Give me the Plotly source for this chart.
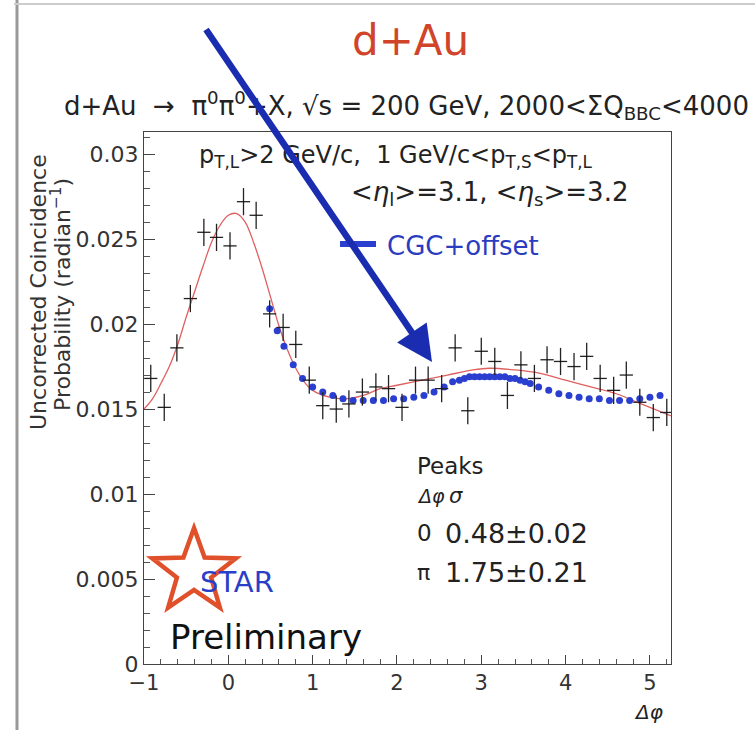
import math
import plotly.graph_objects as go

# ---------------- data ----------------
dphi = [-0.92, -0.76, -0.61, -0.45, -0.29, -0.14, 0.02, 0.18, 0.33, 0.49,
        0.65, 0.80, 0.96, 1.12, 1.28, 1.43, 1.59, 1.75, 1.90, 2.06,
        2.22, 2.37, 2.53, 2.69, 2.84, 3.00, 3.16, 3.31, 3.47, 3.63,
        3.78, 3.94, 4.10, 4.25, 4.41, 4.57, 4.72, 4.88, 5.04, 5.20]
prob = [0.0168, 0.0151, 0.0186, 0.0215, 0.0254, 0.0251, 0.0246, 0.0272, 0.0264, 0.0206,
        0.0198, 0.0188, 0.0167, 0.0152, 0.0150, 0.0153, 0.0160, 0.0163, 0.0162, 0.0151,
        0.0167, 0.0167, 0.0162, 0.0186, 0.0149, 0.0184, 0.0178, 0.0158, 0.0176, 0.0168,
        0.0179, 0.0178, 0.0175, 0.0181, 0.0168, 0.0161, 0.0170, 0.0154, 0.0145, 0.0148]
prob_err = [0.0008] * 40
dphi_halfbin = [0.0785] * 40

fit_x = [-1.0, -0.9, -0.8, -0.7, -0.6, -0.5, -0.4, -0.3, -0.2, -0.1, 0.0, 0.1, 0.2,
         0.3, 0.4, 0.5, 0.6, 0.7, 0.8, 0.9, 1.0, 1.2, 1.4, 1.6, 1.8, 2.0, 2.3, 2.6,
         2.9, 3.1, 3.4, 3.7, 4.0, 4.3, 4.6, 4.8, 5.0, 5.25]
fit_y = [0.0150, 0.0156, 0.0165, 0.0175, 0.0188, 0.0204, 0.0219, 0.0234, 0.0248, 0.0258,
         0.0264, 0.0265, 0.0260, 0.0248, 0.0233, 0.0216, 0.0199, 0.0185, 0.0174, 0.0166,
         0.0161, 0.0157, 0.0156, 0.0158, 0.0162, 0.0164, 0.0167, 0.0170, 0.0173, 0.0174,
         0.0173, 0.0171, 0.0167, 0.0163, 0.0159, 0.0155, 0.0151, 0.0146]

cgc_x = [0.49, 0.58, 0.66, 0.77, 0.88, 1.00, 1.12, 1.24, 1.36, 1.48, 1.60, 1.72, 1.84,
         1.96, 2.08, 2.20, 2.32, 2.44, 2.56, 2.66, 2.74, 2.80, 2.86, 2.92, 2.98, 3.04,
         3.10, 3.16, 3.22, 3.28, 3.34, 3.40, 3.46, 3.52, 3.58, 3.68, 3.80, 3.92, 4.04,
         4.16, 4.28, 4.40, 4.52, 4.64, 4.76, 4.88, 5.00, 5.12]
cgc_y = [0.0209, 0.0196, 0.0187, 0.0176, 0.0168, 0.0163, 0.0160, 0.0158, 0.0156, 0.0155,
         0.0155, 0.0155, 0.0155, 0.0156, 0.0156, 0.0157, 0.0158, 0.0160, 0.0163, 0.0166,
         0.0167, 0.0168, 0.0169, 0.0169, 0.0169, 0.0169, 0.0169, 0.0169, 0.0169, 0.0169,
         0.0168, 0.0168, 0.0167, 0.0166, 0.0165, 0.0163, 0.0161, 0.0159, 0.0158, 0.0157,
         0.0156, 0.0156, 0.0155, 0.0155, 0.0155, 0.0156, 0.0157, 0.0158]

y_tickvals = [0, 0.005, 0.01, 0.015, 0.02, 0.025, 0.03]
y_ticktext = ["0", "0.005", "0.01", "0.015", "0.02", "0.025", "0.03"]
x_tickvals = [-1, 0, 1, 2, 3, 4, 5]
x_ticktext = ["−1", "0", "1", "2", "3", "4", "5"]

# ---------------- layout geometry ----------------
W, H = 755, 730
PL, PR, PT, PB = 144, 671, 132, 664


def px(x):
    return (x - PL) / (PR - PL)


def py(y):
    return (PB - y) / (PB - PT)


FONT = "DejaVu Sans, Verdana, sans-serif"
BLUE = "#2a3cc0"
ARROW = "#1a2cb0"
RED = "#d0452a"

fig = go.Figure()

fig.add_trace(go.Scatter(
    x=fit_x, y=fit_y, mode="lines", line=dict(color="#e06060", width=1.3, shape="spline"),
    showlegend=False, hoverinfo="skip"))

fig.add_trace(go.Scatter(
    x=cgc_x, y=cgc_y, mode="markers",
    marker=dict(color="#2a3fd0", size=7, line=dict(width=0)),
    showlegend=False, name="CGC+offset"))

fig.add_trace(go.Scatter(
    x=dphi, y=prob, mode="markers",
    marker=dict(color="black", size=1),
    error_x=dict(type="data", array=dphi_halfbin, width=0, thickness=1.3, color="#222"),
    error_y=dict(type="data", array=prob_err, width=0, thickness=1.3, color="#222"),
    showlegend=False, name="data"))

annotations = []


def txt(x, y, s, size=20, color="#222", xanchor="left", yanchor="middle", **kw):
    annotations.append(dict(x=px(x), y=py(y), xref="paper", yref="paper", text=s,
                            showarrow=False, xanchor=xanchor, yanchor=yanchor,
                            font=dict(family=FONT, size=size, color=color), **kw))


txt(410, 40, "d+Au", size=42, color=RED, xanchor="center")
txt(406, 106, "d+Au  →  π<sup>0</sup>π<sup>0</sup>+X, √s = 200 GeV, 2000&lt;ΣQ<sub>BBC</sub>&lt;4000",
    size=26, xanchor="center")
txt(197, 156, "p<sub>T,L</sub>&gt;2 GeV/c,  1 GeV/c&lt;p<sub>T,S</sub>&lt;p<sub>T,L</sub>", size=24)
txt(630, 193, "&lt;<i>η</i><sub>l</sub>&gt;=3.1, &lt;<i>η</i><sub>s</sub>&gt;=3.2", size=26,
    xanchor="right")
txt(385, 246, "CGC+offset", size=26, color=BLUE)

txt(415, 466, "Peaks", size=23)
txt(415, 496, "<i>Δφ</i>", size=19)
txt(447, 496, "<i>σ</i>", size=21)
txt(415, 533, "0", size=23)
txt(443, 533, "0.48±0.02", size=27)
txt(415, 572, "π", size=22)
txt(443, 572, "1.75±0.21", size=27)

txt(198, 582, "STAR", size=29, color="#2a3fc8")
txt(168, 637, "Preliminary", size=34, color="#111")
txt(648, 712, "<i>Δφ</i>", size=20, xanchor="center")

# y axis title (two rotated lines)
annotations.append(dict(x=px(38), y=py(292), xref="paper", yref="paper",
                        text="Uncorrected Coincidence",
                        showarrow=False, textangle=-90, xanchor="center", yanchor="middle",
                        font=dict(family=FONT, size=22, color="#333")))
annotations.append(dict(x=px(61), y=py(295), xref="paper", yref="paper",
                        text="Probability (radian<sup>−1</sup>)",
                        showarrow=False, textangle=-90, xanchor="center", yanchor="middle",
                        font=dict(family=FONT, size=22, color="#333")))

# big blue arrow
annotations.append(dict(x=px(432), y=py(362), xref="paper", yref="paper", text="",
                        showarrow=True, ax=205 - 432, ay=28 - 362, arrowhead=2,
                        arrowsize=1.1, arrowwidth=6.5, arrowcolor=ARROW))

shapes = []
# legend line segment
shapes.append(dict(type="line", xref="paper", yref="paper", x0=px(340), x1=px(376),
                   y0=py(244), y1=py(244), line=dict(color="#2a3fd0", width=6)))
# slide borders
shapes.append(dict(type="line", xref="paper", yref="paper", x0=px(17), x1=px(17),
                   y0=py(0), y1=py(730), line=dict(color="#999", width=3)))
shapes.append(dict(type="line", xref="paper", yref="paper", x0=px(14), x1=px(755),
                   y0=py(4), y1=py(4), line=dict(color="#ccc", width=2)))

# STAR logo star outline
cx, cy, ro, ri = 194, 572, 44, 18
pts = []
for k in range(10):
    ang = -math.pi / 2 + k * math.pi / 5
    r = ro if k % 2 == 0 else ri
    pts.append((cx + r * math.cos(ang), cy + r * math.sin(ang)))
path = "M " + " L ".join(f"{px(a):.4f},{py(b):.4f}" for a, b in pts) + " Z"
shapes.append(dict(type="path", xref="paper", yref="paper", path=path,
                   line=dict(color="#e0502a", width=4.5), fillcolor="rgba(0,0,0,0)"))

fig.update_layout(
    width=W, height=H,
    margin=dict(l=PL, r=W - PR, t=PT, b=H - PB),
    paper_bgcolor="white", plot_bgcolor="white",
    font=dict(family=FONT, color="#333"),
    annotations=annotations, shapes=shapes, showlegend=False,
)
fig.update_xaxes(
    range=[-1, 5.25], tickvals=x_tickvals, ticktext=x_ticktext,
    ticks="inside", ticklen=9, tickcolor="#444", tickwidth=1,
    minor=dict(dtick=0.2, tick0=-1, ticks="inside", ticklen=5, tickcolor="#555"),
    showline=True, linecolor="#444", linewidth=1.2, mirror=True,
    showgrid=False, zeroline=False, tickfont=dict(family=FONT, size=21, color="#333"),
)
fig.update_yaxes(
    range=[0, 0.0313], tickvals=y_tickvals, ticktext=y_ticktext,
    ticks="inside", ticklen=11, tickcolor="#444", tickwidth=1,
    minor=dict(dtick=0.001, tick0=0, ticks="inside", ticklen=6, tickcolor="#555"),
    showline=True, linecolor="#444", linewidth=1.2, mirror=True,
    showgrid=False, zeroline=False, tickfont=dict(family=FONT, size=22, color="#333"),
)

fig.write_html("out.html")
